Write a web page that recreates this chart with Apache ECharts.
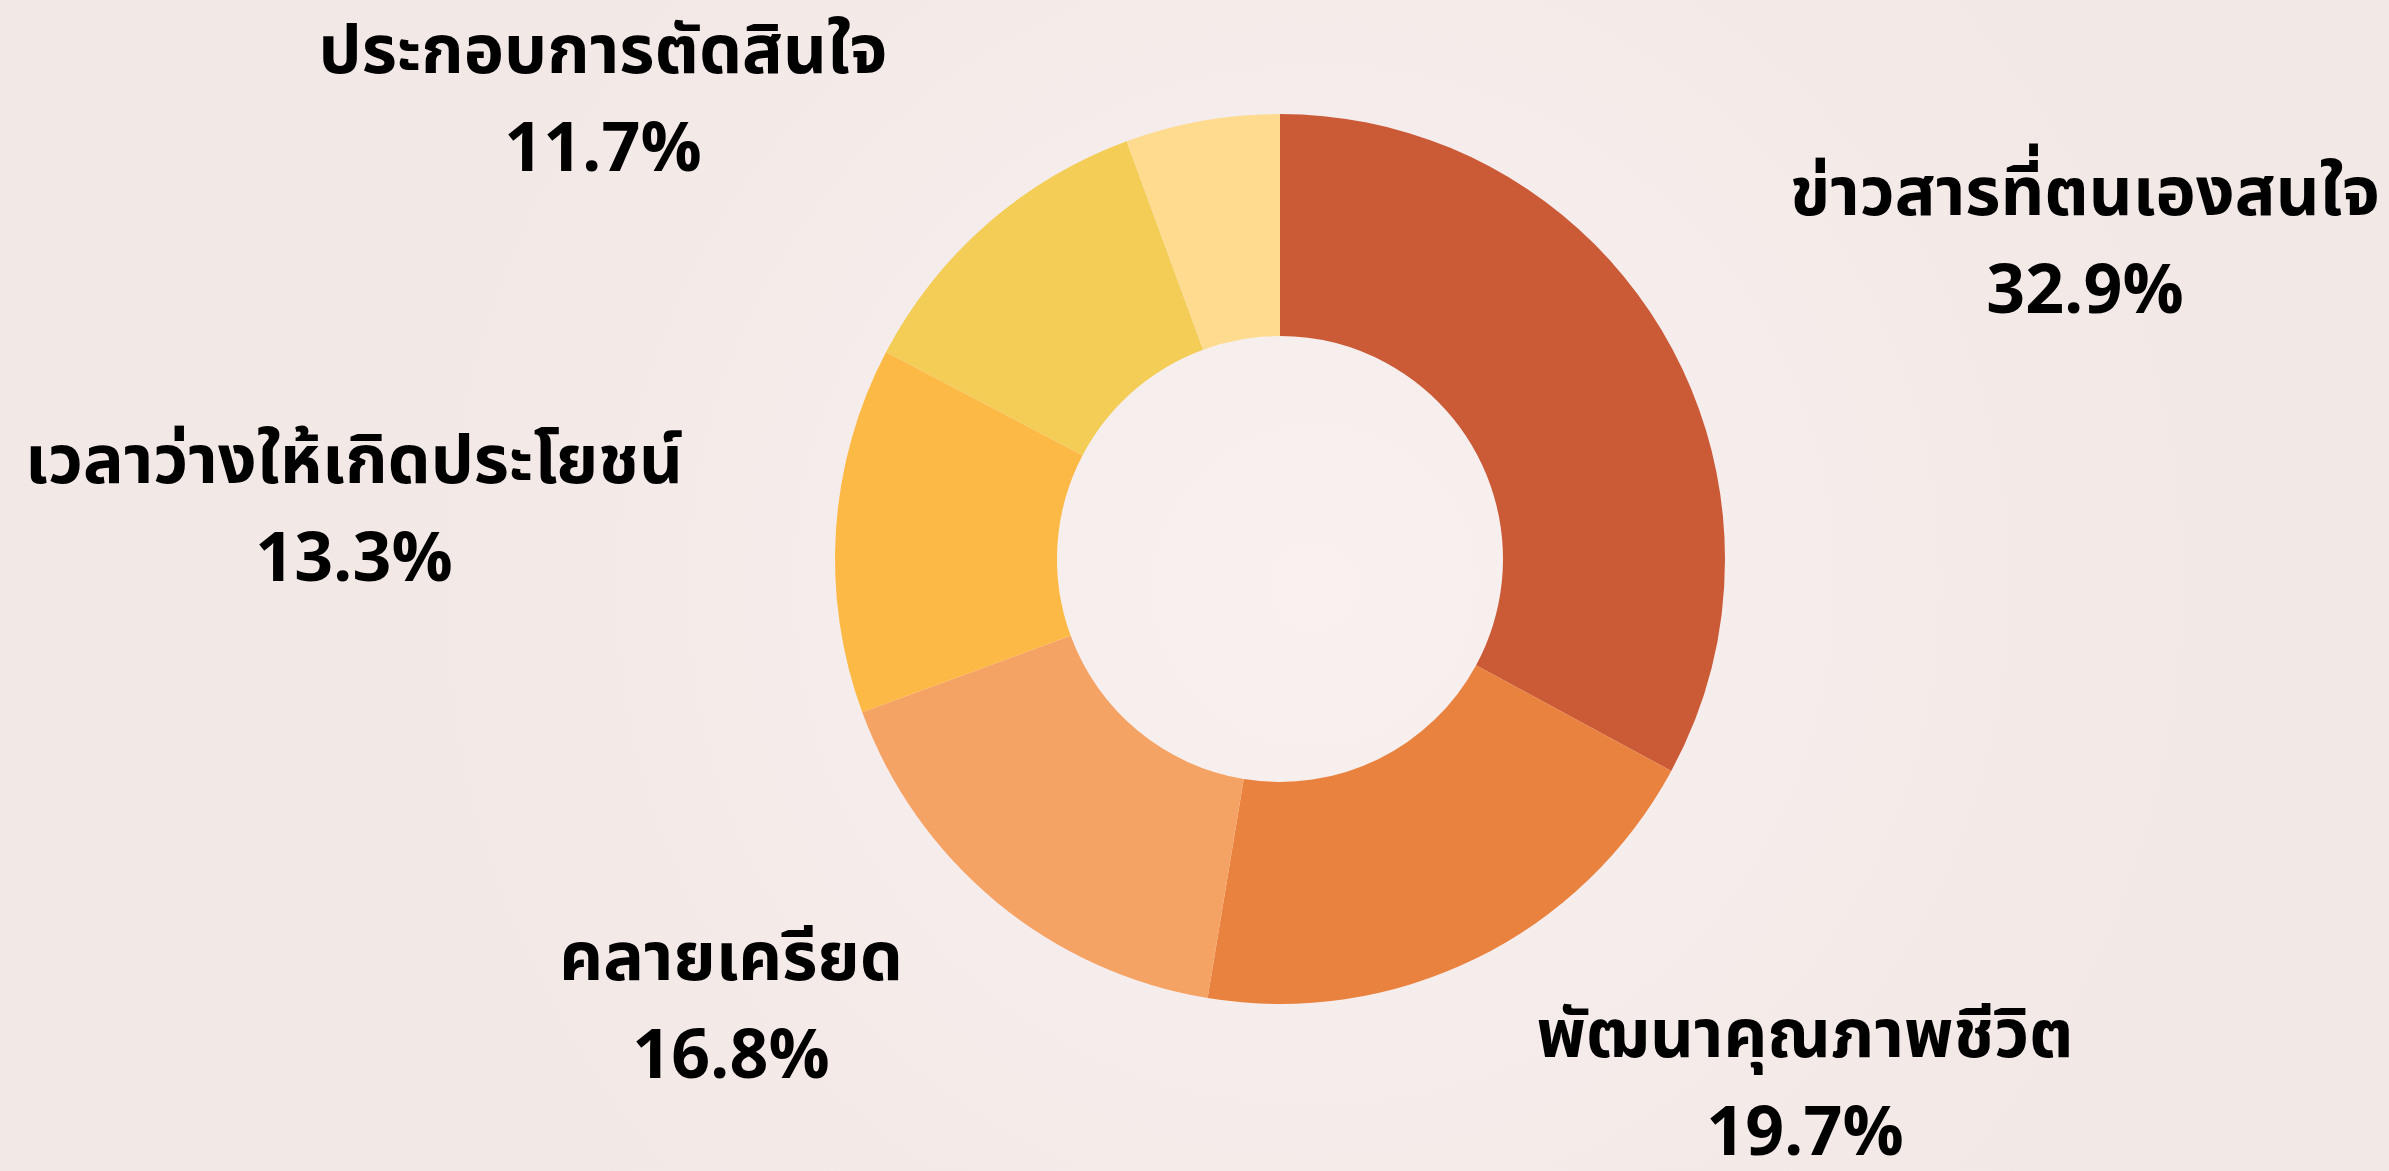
<!DOCTYPE html>
<html>
<head>
<meta charset="utf-8">
<script src="https://cdn.jsdelivr.net/npm/echarts@6/dist/echarts.min.js"></script>
<style>
  html, body { margin: 0; padding: 0; }
  #chart { width: 2389px; height: 1171px; }
</style>
</head>
<body>
<div id="chart"></div>
<script>
// สัดส่วนเหตุผลในการใช้งาน (ร้อยละ)
var names = ['ข่าวสารที่ตนเองสนใจ', 'พัฒนาคุณภาพชีวิต', 'คลายเครียด', 'เวลาว่างให้เกิดประโยชน์', 'ประกอบการตัดสินใจ', 'อื่นๆ'];
var values = [32.9, 19.7, 16.8, 13.3, 11.7, 5.6];
var colors = ['#CB5A37', '#E9823E', '#F5A265', '#FDB945', '#F3CD55', '#FEDB8F'];
var showLabel = [true, true, true, true, true, false];

// ตำแหน่งป้ายกำกับ (จุดกึ่งกลางของข้อความสองบรรทัด)
var labelPos = [
    [2085, 250],
    [1805, 1092],
    [731, 1015],
    [354, 518],
    [603, 108],
    [0, 0]
];

var pieData = [];
for (var i = 0; i < names.length; ++i) {
    pieData.push({
        name: names[i],
        value: values[i],
        itemStyle: { color: colors[i] },
        label: { show: showLabel[i] }
    });
}

var dom = document.getElementById('chart');
var myChart = echarts.init(dom);
var option = {
    backgroundColor: {
        type: 'radial',
        x: 0.55, y: 0.5, r: 0.8,
        colorStops: [
            { offset: 0, color: '#F8F1F0' },
            { offset: 1, color: '#F2E8E6' }
        ]
    },
    animation: false,
    series: [
        {
            type: 'pie',
            center: [1280, 559],
            radius: [223, 445],
            startAngle: 90,
            clockwise: true,
            data: pieData,
            labelLine: { show: false },
            label: {
                position: 'outside',
                formatter: '{b}\n{c}%',
                color: '#000',
                fontSize: 68,
                fontWeight: 'bold',
                fontFamily: '"Noto Sans Thai", "Noto Sans", sans-serif',
                lineHeight: 98,
                align: 'center'
            },
            labelLayout: function (params) {
                var p = labelPos[params.dataIndex];
                return {
                    x: p[0],
                    y: p[1],
                    align: 'center',
                    verticalAlign: 'middle'
                };
            }
        }
    ]
};
myChart.setOption(option, true);
</script>
</body>
</html>
